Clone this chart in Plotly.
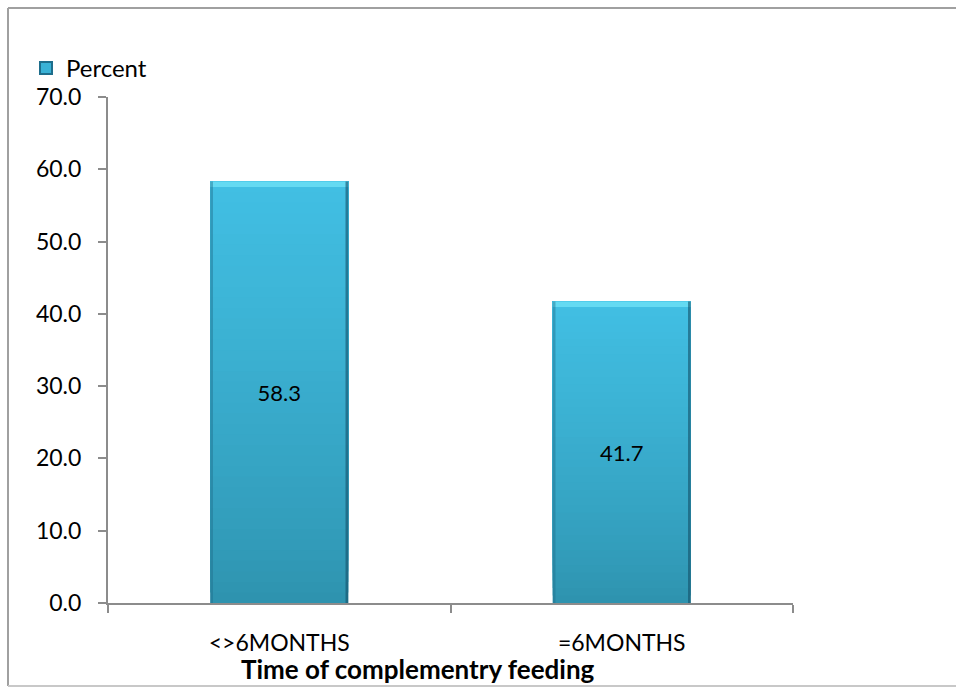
import plotly.graph_objects as go
import numpy as np

# Data
categories = ["<>6MONTHS", "=6MONTHS"]
percent = [58.3, 41.7]
series_name = "Percent"
y_ticks = [0, 10, 20, 30, 40, 50, 60, 70]
x_title = "Time of complementry feeding"

FONT = "Lato"
TOP = np.array([0x42, 0xC0, 0xE4])
BOTTOM = np.array([0x2E, 0x92, 0xAE])
BAR_W = 0.403
N_SLICES = 40

# plot-area pixel geometry (used to place paper-referenced items)
L, R, T, B = 108, 793, 97, 603
PW, PH = R - L, B - T


def px_x(x):
    return (x - L) / PW


def px_y(y):
    return (B - y) / PH


def rgb(c):
    c = np.clip(c, 0, 255).astype(int)
    return f"rgb({c[0]},{c[1]},{c[2]})"


fig = go.Figure()

# vertical gradient: each slice runs from its start up to the bar top so that
# later (lighter) slices cover the earlier ones without seams
vals = np.array(percent, dtype=float)
for i in range(N_SLICES):
    f0 = i / N_SLICES
    t = (i + 0.5) / N_SLICES
    col = BOTTOM + (TOP - BOTTOM) * t ** 0.8
    fig.add_trace(go.Bar(
        x=categories, y=vals * (1 - f0), base=vals * f0,
        width=BAR_W, marker=dict(color=rgb(col), line=dict(width=0)),
        showlegend=False, hoverinfo="skip",
    ))

# bevel highlight along the top edge
bevel = 0.75
fig.add_trace(go.Bar(
    x=categories, y=[bevel] * len(vals), base=vals - bevel,
    width=BAR_W, marker=dict(color="rgb(100,218,242)", line=dict(width=0)),
    showlegend=False, hoverinfo="skip",
))

# thin shaded strips along the bar sides
for off, col in [(-BAR_W / 2, "rgba(30,110,140,0.45)"),
                 (BAR_W / 2 - 0.008, "rgba(20,80,105,0.6)")]:
    fig.add_trace(go.Bar(
        x=categories, y=vals, width=0.008, offset=off,
        marker=dict(color=col, line=dict(width=0)),
        showlegend=False, hoverinfo="skip",
    ))

# value labels
fig.add_trace(go.Bar(
    x=categories, y=vals, width=BAR_W, showlegend=False, hoverinfo="skip",
    marker=dict(color="rgba(0,0,0,0)", line=dict(width=0)),
    text=[f"{v:.1f}" for v in vals], textposition="inside",
    insidetextanchor="middle", textangle=0,
    textfont=dict(family=FONT, size=22, color="black"),
))

# legend entry
fig.add_trace(go.Bar(x=[None], y=[None], name=series_name,
                     marker=dict(color="rgb(58,178,214)",
                                 line=dict(color="rgb(30,110,140)", width=1)),
                     showlegend=True))

border = dict(color="#a0a0a0", width=2)
fig.update_layout(
    barmode="overlay",
    width=956, height=688,
    margin=dict(l=L, r=956 - R, t=T, b=688 - B),
    paper_bgcolor="white", plot_bgcolor="white",
    font=dict(family=FONT, size=22, color="black"),
    showlegend=True,
    legend=dict(x=px_x(26), y=px_y(46), xanchor="left", yanchor="top",
                bgcolor="rgba(0,0,0,0)", font=dict(family=FONT, size=24),
                itemsizing="constant"),
    xaxis=dict(
        showline=True, linecolor="#8c8c8c", linewidth=2,
        ticks="outside", ticklen=8, tickcolor="#8c8c8c", tickwidth=2,
        tickson="boundaries", showgrid=False, ticklabelstandoff=18,
        tickfont=dict(family=FONT, size=23),
    ),
    yaxis=dict(
        range=[0, 70], tickvals=y_ticks, tickformat=".1f",
        showline=True, linecolor="#8c8c8c", linewidth=2,
        ticks="outside", ticklen=8, tickcolor="#8c8c8c", tickwidth=2,
        showgrid=False, zeroline=False, ticklabelstandoff=12,
        tickfont=dict(family=FONT, size=23),
    ),
    annotations=[dict(text=f"<b>{x_title}</b>", xref="paper", yref="paper",
                      x=px_x(418), y=px_y(669), xanchor="center", yanchor="middle",
                      showarrow=False, font=dict(family=FONT, size=26))],
    shapes=[
        # keep the right page edge clean
        dict(type="rect", xref="paper", yref="paper",
             x0=px_x(940), x1=px_x(960), y0=px_y(700), y1=px_y(0),
             fillcolor="white", line=dict(width=0), layer="above"),
        dict(type="line", xref="paper", yref="paper",
             x0=px_x(8), x1=px_x(8), y0=px_y(686), y1=px_y(8), line=border),
        dict(type="line", xref="paper", yref="paper",
             x0=px_x(8), x1=px_x(956), y0=px_y(8), y1=px_y(8), line=border),
        dict(type="line", xref="paper", yref="paper",
             x0=px_x(8), x1=px_x(956), y0=px_y(686), y1=px_y(686),
             line=dict(color="#c8c8c8", width=2)),
    ],
)

fig.write_html("out.html")
